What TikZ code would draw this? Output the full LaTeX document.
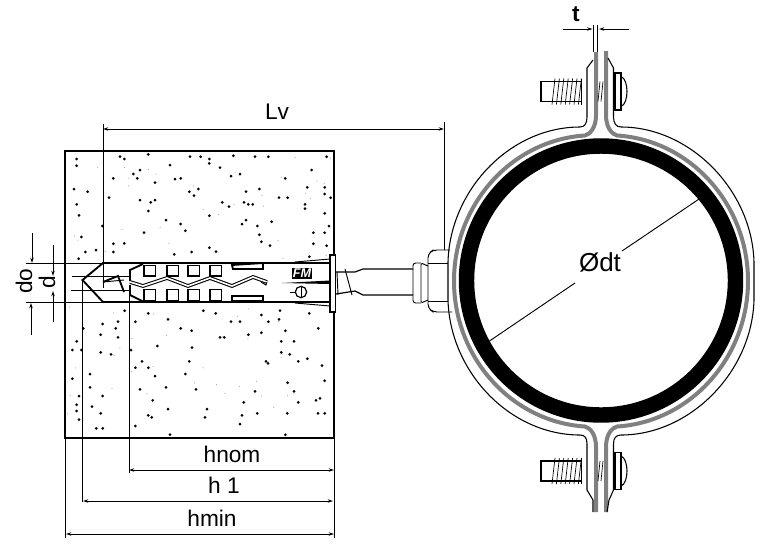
\documentclass[tikz,border=0pt]{standalone}
\usepackage{fontspec}
\setmainfont{Liberation Sans}
\usetikzlibrary{arrows.meta}
\newcommand{\specks}[3]{
  \foreach \sx/\sy in {#3} { \fill ({#1+\sx/3},{#2+\sy/3}) circle (1.5); }
}
\begin{document}
\begin{tikzpicture}[
  x=0.75pt,y=-0.75pt,
  thin line/.style={line width=0.7pt},
  thick line/.style={line width=1.4pt},
  dim line/.style={line width=0.7pt,{Stealth[length=4pt,width=2.6pt]}-{Stealth[length=4pt,width=2.6pt]}},
  dim arrow/.style={line width=0.7pt,-{Stealth[length=4pt,width=2.6pt]}},
  dim label/.style={font=\fontsize{17}{20}\selectfont,inner sep=0pt},
  strap/.style={line width=3pt,gray},
  ]
  \useasboundingbox (0,0) rectangle (768,551);

  % concrete block
  \draw[line width=1.2pt] (65,151) rectangle (334,438);
  \specks{60}{145}{50/42,50/62,180/35,193/42,265/28,390/35,422/35,448/42,448/55,520/32,585/35,625/35,800/35,330/60,480/68,240/75,755/75,220/87,232/100,160/100,345/102,362/100,513/93,540/87,676/100,285/113,42/132,83/140,388/140,415/132,598/132,742/127,794/127,558/140,147/158,240/165,272/172,285/165,402/152,657/158,683/158,794/147,812/158,50/178,487/172,507/185,552/172,565/178,578/178,735/178,735/191,265/198,57/211,794/205,318/225,558/225,362/237,546/237,127/243,592/243,807/243,376/257,252/263,760/263,794/263,598/269,64/276,448/212,635/230,193/295,160/296,630/302,760/296,800/302,604/290,448/308,468/320,76/321,160/321,343/328,395/321,748/335,56/341,108/315}
  \specks{60}{300}{265/40,430/32,467/40,660/32,194/32,604/45,748/40,540/65,625/65,657/58,128/72,174/65,226/65,324/58,513/65,167/85,70/85,362/85,395/92,676/92,775/85,122/104,565/104,604/98,480/112,493/112,174/112,50/124,664/124,702/124,292/138,396/143,37/150,64/150,122/157,153/163,213/150,664/157,689/163,246/184,388/184,618/184,624/190,715/184,742/176,786/197,226/203,265/203,90/222,376/222,285/228,37/236,794/242,683/248,90/262,240/268,318/262,408/268,585/274,702/274,57/288,128/288,278/301,780/295,768/301,551/307,50/314,715/307,96/320,324/327,441/327,50/333,122/340,265/346,275/352,546/346,682/340,794/340,774/340,592/340,435/352,57/359,540/372,226/378,109/385,128/385,676/404,330/404}
  \pgfmathsetseed{11}
  \foreach \i in {1,...,30} {
    \fill[gray!70] ({66+267*rnd},{153+108*rnd}) circle (0.6);
    \fill[gray!70] ({66+267*rnd},{305+131*rnd}) circle (0.6);
  }

  % drilled hole
  \draw[thick line] (330,263) -- (103,263) -- (82.5,280) -- (103,302) -- (330,302);
  \draw[thin line] (26,263) -- (103,263);
  \draw[thin line] (26,302) -- (103,302);
  \draw[thin line] (72,276) -- (129,276);
  \draw[line width=0.9pt] (71,290.5) -- (130,290.5);
  \draw[thin line] (103,263) -- (103,288);
  \draw[thick line] (103,282) -- (118,276) -- (124,292);
  \draw[thin line] (103,282) -- (124,280);

  % plug
  \draw[thick line] (143,264) -- (130,270) -- (130,281);
  \draw[thick line] (130,285) -- (130,295) -- (144,302);
  \draw[line width=0.8pt,double,double distance=1.2pt]
    (130,282) -- (143,286) -- (167,278) -- (188,286) -- (210,278) -- (232,286) -- (253,277) -- (267,282);
  \draw[thin line] (267,282) -- (266,285) -- (261,282);
  \foreach \wx in {144,167,188,210} {
    \draw[thick line] (\wx,265.5) rectangle +(11.5,10.5);
    \draw[thick line] (\wx,289.5) rectangle +(11.5,11);
  }
  \draw[thick line] (232,265) -- (263,263) -- (263,269) -- (233,269) -- cycle;
  \draw[thick line] (232,296) -- (263,296) -- (263,301) -- (232,301) -- cycle;
  \draw[thin line] (295,262) -- (330,259);
  \draw[thin line] (295,303) -- (330,306);
  \fill (282,283) -- (330,280.5) -- (330,284) -- cycle;
  \node[fill=black,text=white,inner sep=0.6pt,font=\bfseries\itshape\fontsize{9.5}{9.5}\selectfont] (logo) at (302,273.5) {FM};
  \node[circle,draw,line width=0.9pt,minimum size=8.5pt,inner sep=0pt] (screw) at (301,292) {};
  \draw[thin line] (290,292) -- (screw.west);
  \draw[thin line] (screw.north) -- (screw.south);
  \draw[thick line,fill=white] (330,255) rectangle (335.5,312);

  % threaded rod and nut
  \draw[line width=0.9pt] (336,272) -- (355,272) -- (363,269) -- (413,269);
  \draw[line width=0.9pt] (336,294) -- (355,291) -- (363,295) -- (413,295);
  \draw[thin line] (345,269) -- (352,295);
  \draw[thin line] (337,272) -- (338,295);
  \draw[thin line,rounded corners=2pt] (421,263) -- (413,263) -- (413,303) -- (421,303);
  \draw[thin line,rounded corners=1pt] (428,266) -- (421,263) -- (421,303) -- (428,300);
  \draw[thin line,rounded corners=3pt] (450,250) -- (433,250) -- (428,254) -- (428,308) -- (433,312) -- (452,312);
  \draw[thin line] (428,263) -- (448,263);
  \draw[thin line] (428,301) -- (448,301);

  % clamp
  \draw[line width=11.6pt] (601,280.5) circle (134.5);
  \draw[strap] (596,52) -- (596,115) .. controls (596,128) and (590,134) .. (585,135.5)
    .. controls (512,140) and (454,204) .. (454,281) .. controls (454,358) and (512,422) .. (585,426.5)
    .. controls (590,428) and (596,434) .. (596,447) -- (596,512);
  \draw[strap] (606,51) -- (606,115) .. controls (606,128) and (612,134) .. (617,135.5)
    .. controls (690,140) and (748,204) .. (748,281) .. controls (748,358) and (690,422) .. (617,426.5)
    .. controls (612,428) and (606,434) .. (606,447) -- (606,512);
  \draw[line width=0.8pt] (593,60) -- (587,68) -- (587,117) .. controls (587,123) and (585,127) .. (580,127)
    .. controls (510,127) and (450,190) .. (448,262) -- (448,300) .. controls (450,372) and (510,435) .. (580,435)
    .. controls (585,435) and (587,438) .. (587,444) -- (587,490) -- (593,500) -- (593,512);
  \draw[line width=0.8pt] (608,58) -- (613.5,68) -- (613.5,117) .. controls (613.5,123) and (616,127) .. (621,127)
    .. controls (690,127) and (752,190) .. (754,262) -- (754,300) .. controls (752,372) and (690,435) .. (621,435)
    .. controls (616,435) and (613.5,438) .. (613.5,444) -- (613.5,490) -- (609,500) -- (607,512);

  % bolts
  \foreach \by in {91.5,471} {
    \begin{scope}[shift={(0,\by)}]
      \draw[line width=0.8pt] (581.5,-10) -- (541,-10) -- (541,10) -- (581.5,10);
      \draw[line width=0.8pt] (581.5,-13) -- (581.5,13);
      \foreach \t in {0,...,6} { \draw[line width=0.5pt] ({552+4.4*\t},13) -- ({555+4.4*\t},-13); }
      \foreach \t in {0,1} { \draw[line width=0.5pt] ({598+3*\t},10) -- ({600+3*\t},-10); }
      \draw[line width=0.8pt] (615,-18.5) rectangle (621,18.5);
      \draw[line width=0.8pt] (621,-15) .. controls (629,-12) and (629,12) .. (621,15);
    \end{scope}
  }

  % dimensions
  \coordinate (lv-a) at (103,124);
  \coordinate (lv-b) at (444,122);
  \coordinate (lv-c) at (103,129);
  \coordinate (lv-d) at (444,129);
  \draw[thin line] (lv-a) -- (103,263);
  \draw[thin line] (lv-b) -- (444,250);
  \draw[dim line] (lv-c) -- (lv-d);
  \node[dim label] (lv) at (277,112) {Lv};

  \coordinate (do-a) at (32,233);
  \coordinate (do-b) at (32,263);
  \coordinate (do-c) at (31,335);
  \coordinate (do-d) at (31,303);
  \draw[dim arrow] (do-a) -- (do-b);
  \draw[dim arrow] (do-c) -- (do-d);
  \node[dim label,rotate=90] (do) at (24,281) {do};

  \coordinate (d-a) at (53,245);
  \coordinate (d-b) at (53,276);
  \coordinate (d-c) at (53,322);
  \coordinate (d-d) at (53,291);
  \draw[dim arrow] (d-a) -- (d-b);
  \draw[dim arrow] (d-c) -- (d-d);
  \node[dim label,rotate=90] (d) at (47,282.5) {d};

  \coordinate (hnom-a) at (129,295);
  \coordinate (hnom-b) at (129,473);
  \coordinate (hnom-c) at (129,470);
  \coordinate (hnom-d) at (334,470);
  \draw[thin line] (hnom-a) -- (hnom-b);
  \draw[dim line] (hnom-c) -- (hnom-d);
  \node[dim label] (hnom) at (232,454) {hnom};

  \coordinate (h1-a) at (82.5,280);
  \coordinate (h1-b) at (82.5,502);
  \coordinate (h1-c) at (83,501);
  \coordinate (h1-d) at (333,501);
  \draw[thin line] (h1-a) -- (h1-b);
  \draw[dim line] (h1-c) -- (h1-d);
  \node[dim label] (h1) at (224,485) {h 1};

  \coordinate (hmin-a) at (65.5,438);
  \coordinate (hmin-b) at (65.5,538);
  \coordinate (hmin-c) at (334,438);
  \coordinate (hmin-d) at (334,538);
  \coordinate (hmin-e) at (66,534);
  \coordinate (hmin-f) at (334,534);
  \draw[thin line] (hmin-a) -- (hmin-b);
  \draw[thin line] (hmin-c) -- (hmin-d);
  \draw[dim line] (hmin-e) -- (hmin-f);
  \node[dim label] (hmin) at (212,518) {hmin};

  \coordinate (t-a) at (563,29);
  \coordinate (t-b) at (592.5,29);
  \coordinate (t-c) at (629,29);
  \coordinate (t-d) at (599,29);
  \draw[thin line] (593.5,25) -- (593.5,52);
  \draw[thin line] (597.5,25) -- (597.5,52);
  \draw[dim arrow] (t-a) -- (t-b);
  \draw[dim arrow] (t-c) -- (t-d);
  \node[dim label,font=\bfseries\fontsize{17}{20}\selectfont] (t) at (576,14) {t};

  \coordinate (dt-a) at (488,342);
  \coordinate (dt-b) at (575,283);
  \coordinate (dt-c) at (622,251);
  \coordinate (dt-d) at (708,193);
  \draw[thin line] (dt-a) -- (dt-b);
  \draw[thin line] (dt-c) -- (dt-d);
  \node[dim label,font=\fontsize{19.5}{22}\selectfont] (dt) at (600,262) {Ødt};
\end{tikzpicture}
\end{document}
